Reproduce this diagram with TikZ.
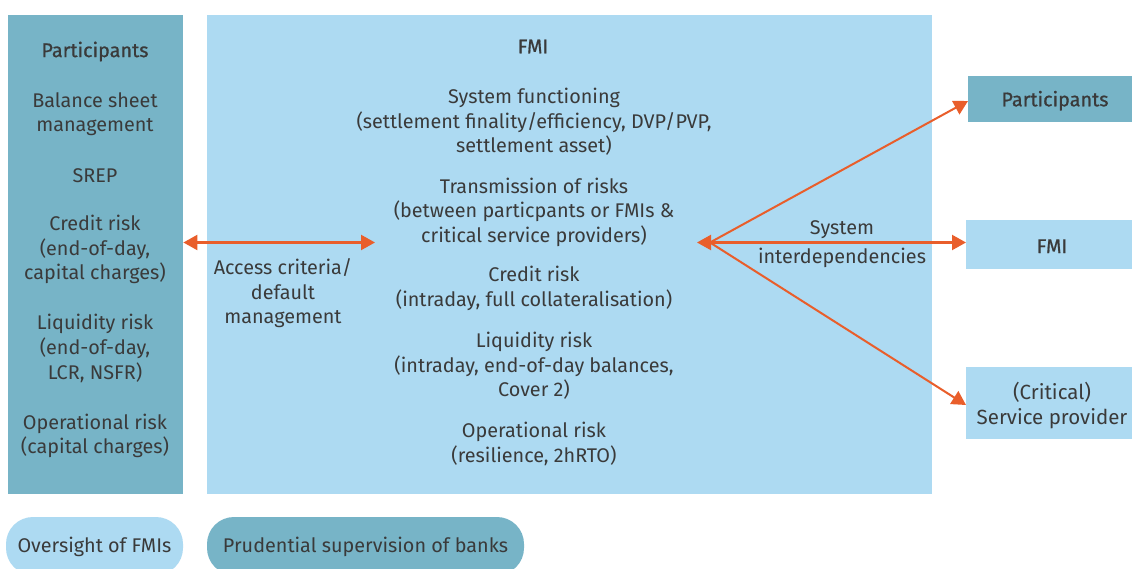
\documentclass[tikz,border=0pt]{standalone}
\usepackage{fontspec}
\setmainfont{Fira Sans}
\newfontfamily\headfont{Fira Sans}[FakeBold=0.8]
\usetikzlibrary{arrows.meta}
\definecolor{darkfill}{HTML}{77B4C7}
\definecolor{lightfill}{HTML}{ADDAF2}
\definecolor{linkc}{HTML}{E95E2B}
\definecolor{textc}{HTML}{3A3A3A}
\tikzset{
  dbox/.style={fill=darkfill, draw=none, inner sep=0pt},
  lbox/.style={fill=lightfill, draw=none, inner sep=0pt},
  lbl/.style={align=center, inner sep=0pt, text=textc, yshift=-1.5pt,
    font=\fontsize{19.8}{24.6}\selectfont},
  head/.style={lbl, font=\fontsize{19.8}{24.6}\selectfont\headfont},
  link/.style={draw=linkc, line width=2.2pt,
    -{Triangle[length=14pt,width=15pt]}},
  dlink/.style={link, {Triangle[length=14pt,width=15pt]}-{Triangle[length=14pt,width=15pt]}},
  pill/.style={rounded corners=27pt, inner sep=0pt}
}
\begin{document}
\begin{tikzpicture}[x=1pt,y=-1pt]
\clip (0,0) rectangle (1132,569);
\fill[white] (0,0) rectangle (1132,569);

% main columns
\node[dbox, anchor=north west, minimum width=175pt, minimum height=479pt] (partcol) at (8,15) {};
\node[lbox, anchor=north west, minimum width=725pt, minimum height=479pt] (fmicol) at (207,15) {};

% right-hand boxes
\node[dbox, anchor=north west, minimum width=180pt, minimum height=46pt] (rpart) at (968,76) {};
\node[lbox, anchor=north west, minimum width=180pt, minimum height=49pt] (rfmi) at (966,220) {};
\node[lbox, anchor=north west, minimum width=180pt, minimum height=72pt] (rsp) at (966,367) {};

% bottom legend pills
\fill[lightfill, pill] (6,517) rectangle (183,575);
\fill[darkfill, pill] (207,517) rectangle (524,575);
\node[lbl] (ovs) at (94.5,545) {Oversight of FMIs};
\node[lbl] (pru) at (365.5,545) {Prudential supervision of banks};

% participants column
\node[head] (ptitle) at (95,50) {Participants};
\node[lbl] (pbal) at (95,112.5) {Balance sheet\\management};
\node[lbl] (psrep) at (95,174) {SREP};
\node[lbl] (pcred) at (95,248) {Credit risk\\(end-of-day,\\capital charges)};
\node[lbl] (pliq) at (95,347) {Liquidity risk\\(end-of-day,\\LCR, NSFR)};
\node[lbl] (pops) at (95,434.5) {Operational risk\\(capital charges)};

% FMI column
\node[head] (ftitle) at (533,45) {FMI};
\node[lbl] (fsys) at (534,120.5) {System functioning\\(settlement finality/efficiency, DVP/PVP,\\settlement asset)};
\node[lbl] (ftra) at (534,210.5) {Transmission of risks\\(between particpants or FMIs \&\\critical service providers)};
\node[lbl] (fcred) at (534,287) {Credit risk\\(intraday, full collateralisation)};
\node[lbl] (fliq) at (534,364.5) {Liquidity risk\\(intraday, end-of-day balances,\\Cover 2)};
\node[lbl] (fops) at (534,442.5) {Operational risk\\(resilience, 2hRTO)};

\node[lbl] (acc) at (283,292) {Access criteria/\\default\\management};
\node[lbl] (sysint) at (842,242.5) {System\\[4.5pt]interdependencies};

% right box labels
\node[head] at (rpart.center -| 1055,0) {Participants};
\node[head] at (rfmi.center -| 1052,0) {FMI};
\node[lbl, font=\fontsize{20.5}{24.6}\selectfont] at (1052,404) {(Critical)\\Service provider};

% connectors
\coordinate (accend) at (375,242.5);
\coordinate (hub) at (697,242.5);
\coordinate (hubback) at (710,242.5);
\draw[dlink] (partcol.east |- accend) -- (accend);
\draw[dlink] (hub) -- (rfmi.west |- hub);
\draw[link, line width=2pt] (hubback) -- (rpart.west |- 0,101);
\draw[link, line width=2pt] (hubback) -- (rsp.west |- 0,405);
\end{tikzpicture}
\end{document}
